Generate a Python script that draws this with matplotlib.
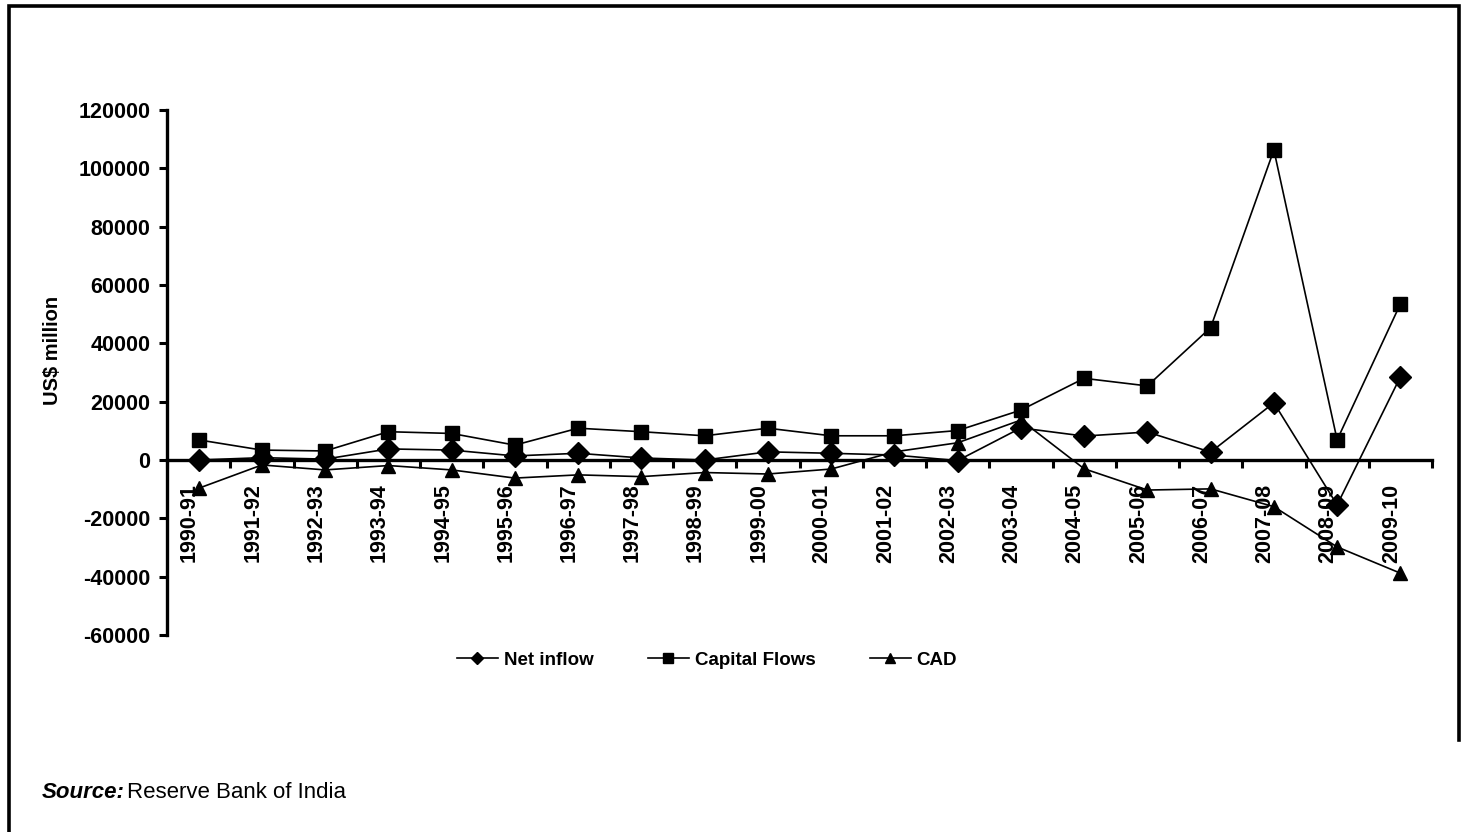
"""Net capital inflow, gross capital flows and current account balance, 1990-91 to 2009-10."""

import matplotlib.pyplot as plt
import numpy as np
from matplotlib.lines import Line2D
from matplotlib.transforms import ScaledTranslation

plt.rcParams["font.family"] = ["Liberation Sans", "DejaVu Sans"]

YEARS = [
    "1990-91", "1991-92", "1992-93", "1993-94", "1994-95",
    "1995-96", "1996-97", "1997-98", "1998-99", "1999-00",
    "2000-01", "2001-02", "2002-03", "2003-04", "2004-05",
    "2005-06", "2006-07", "2007-08", "2008-09", "2009-10",
]

# US$ million
NET_INFLOW = [
    0, 800, 300, 3800, 3400, 1400, 2300, 700, 0, 2800,
    2300, 1700, -200, 11000, 8200, 9600, 2700, 19600, -15400, 28500,
]
CAPITAL_FLOWS = [
    6900, 3400, 3100, 9700, 9100, 5100, 10900, 9700, 8300, 10900,
    8300, 8300, 10100, 17100, 28000, 25400, 45400, 106300, 6900, 53500,
]
CAD = [
    -9700, -1700, -3400, -1900, -3400, -6200, -5100, -5700, -4300, -4800,
    -3100, 2800, 5900, 13700, -3000, -10300, -9900, -16000, -29800, -38800,
]

Y_TICKS = [-60000, -40000, -20000, 0, 20000, 40000, 60000, 80000, 100000, 120000]

INK = "black"
W, H = 1462, 832

fig = plt.figure(figsize=(W / 100, H / 100), dpi=100)
fig.patch.set_facecolor("white")

# box rule along the top and sides of the exhibit
fig.add_artist(Line2D([9 / W, 9 / W, 1459 / W, 1459 / W],
                      [0, 1 - 6 / H, 1 - 6 / H, 1 - 740 / H],
                      transform=fig.transFigure, color=INK, linewidth=2.6,
                      solid_joinstyle="miter"))

ax = fig.add_axes([167 / W, 1 - 635 / H, (1432 - 167) / W, (635 - 110) / H])
x = np.arange(len(YEARS))

series = [
    (NET_INFLOW, "D", 11, "Net inflow"),
    (CAPITAL_FLOWS, "s", 10, "Capital Flows"),
    (CAD, "^", 10, "CAD"),
]
for values, marker, ms, label in series:
    ax.plot(x, values, color=INK, linewidth=1.2, marker=marker, markersize=ms,
            markerfacecolor=INK, markeredgecolor=INK, label=label, zorder=3)

ax.set_xlim(-0.5, len(YEARS) - 0.5)
ax.set_ylim(-60000, 120000)
ax.set_yticks(Y_TICKS)
ax.set_yticklabels([str(v) for v in Y_TICKS], fontsize=15.5, fontweight="bold")
ax.tick_params(axis="y", direction="out", length=6, width=2.2, pad=6)

# category axis sits on the zero line, tick marks between categories
for side in ("top", "right"):
    ax.spines[side].set_visible(False)
ax.spines["left"].set_linewidth(2.4)
ax.spines["bottom"].set_position(("data", 0))
ax.spines["bottom"].set_linewidth(2.4)
ax.spines["bottom"].set_zorder(2)

ax.set_xticks(x)
ax.set_xticklabels(YEARS, rotation=90, fontsize=15.5, fontweight="bold")
ax.set_xticks(np.arange(-0.5, len(YEARS)), minor=True)
ax.tick_params(axis="x", which="major", length=0, pad=17)
ax.tick_params(axis="x", which="minor", direction="out", length=6, width=2.2)
shift = ScaledTranslation(-9 / 100, 0, fig.dpi_scale_trans)
for lbl in ax.get_xticklabels():
    lbl.set_transform(lbl.get_transform() + shift)

fig.text(52 / W, 1 - 350 / H, "US$ million", rotation=90, ha="center", va="center",
         fontsize=14.5, fontweight="bold")

handles = [
    Line2D([], [], color=INK, linewidth=1.2, marker=m, markersize=6 if m == "D" else 7,
           label=lab)
    for _, m, _, lab in series
]
fig.legend(handles=handles, loc="center", bbox_to_anchor=(707 / W, 1 - 660 / H),
           ncol=3, frameon=False, handlelength=2.2, handletextpad=0.3,
           columnspacing=2.9, prop={"size": 13.5, "weight": "bold"})

fig.text(42 / W, 1 - 798 / H, "Source:", fontsize=16, fontweight="bold",
         fontstyle="italic", va="baseline")
fig.text(127 / W, 1 - 798 / H, "Reserve Bank of India", fontsize=16, va="baseline")

fig.savefig("out.png", dpi=100, facecolor="white")
